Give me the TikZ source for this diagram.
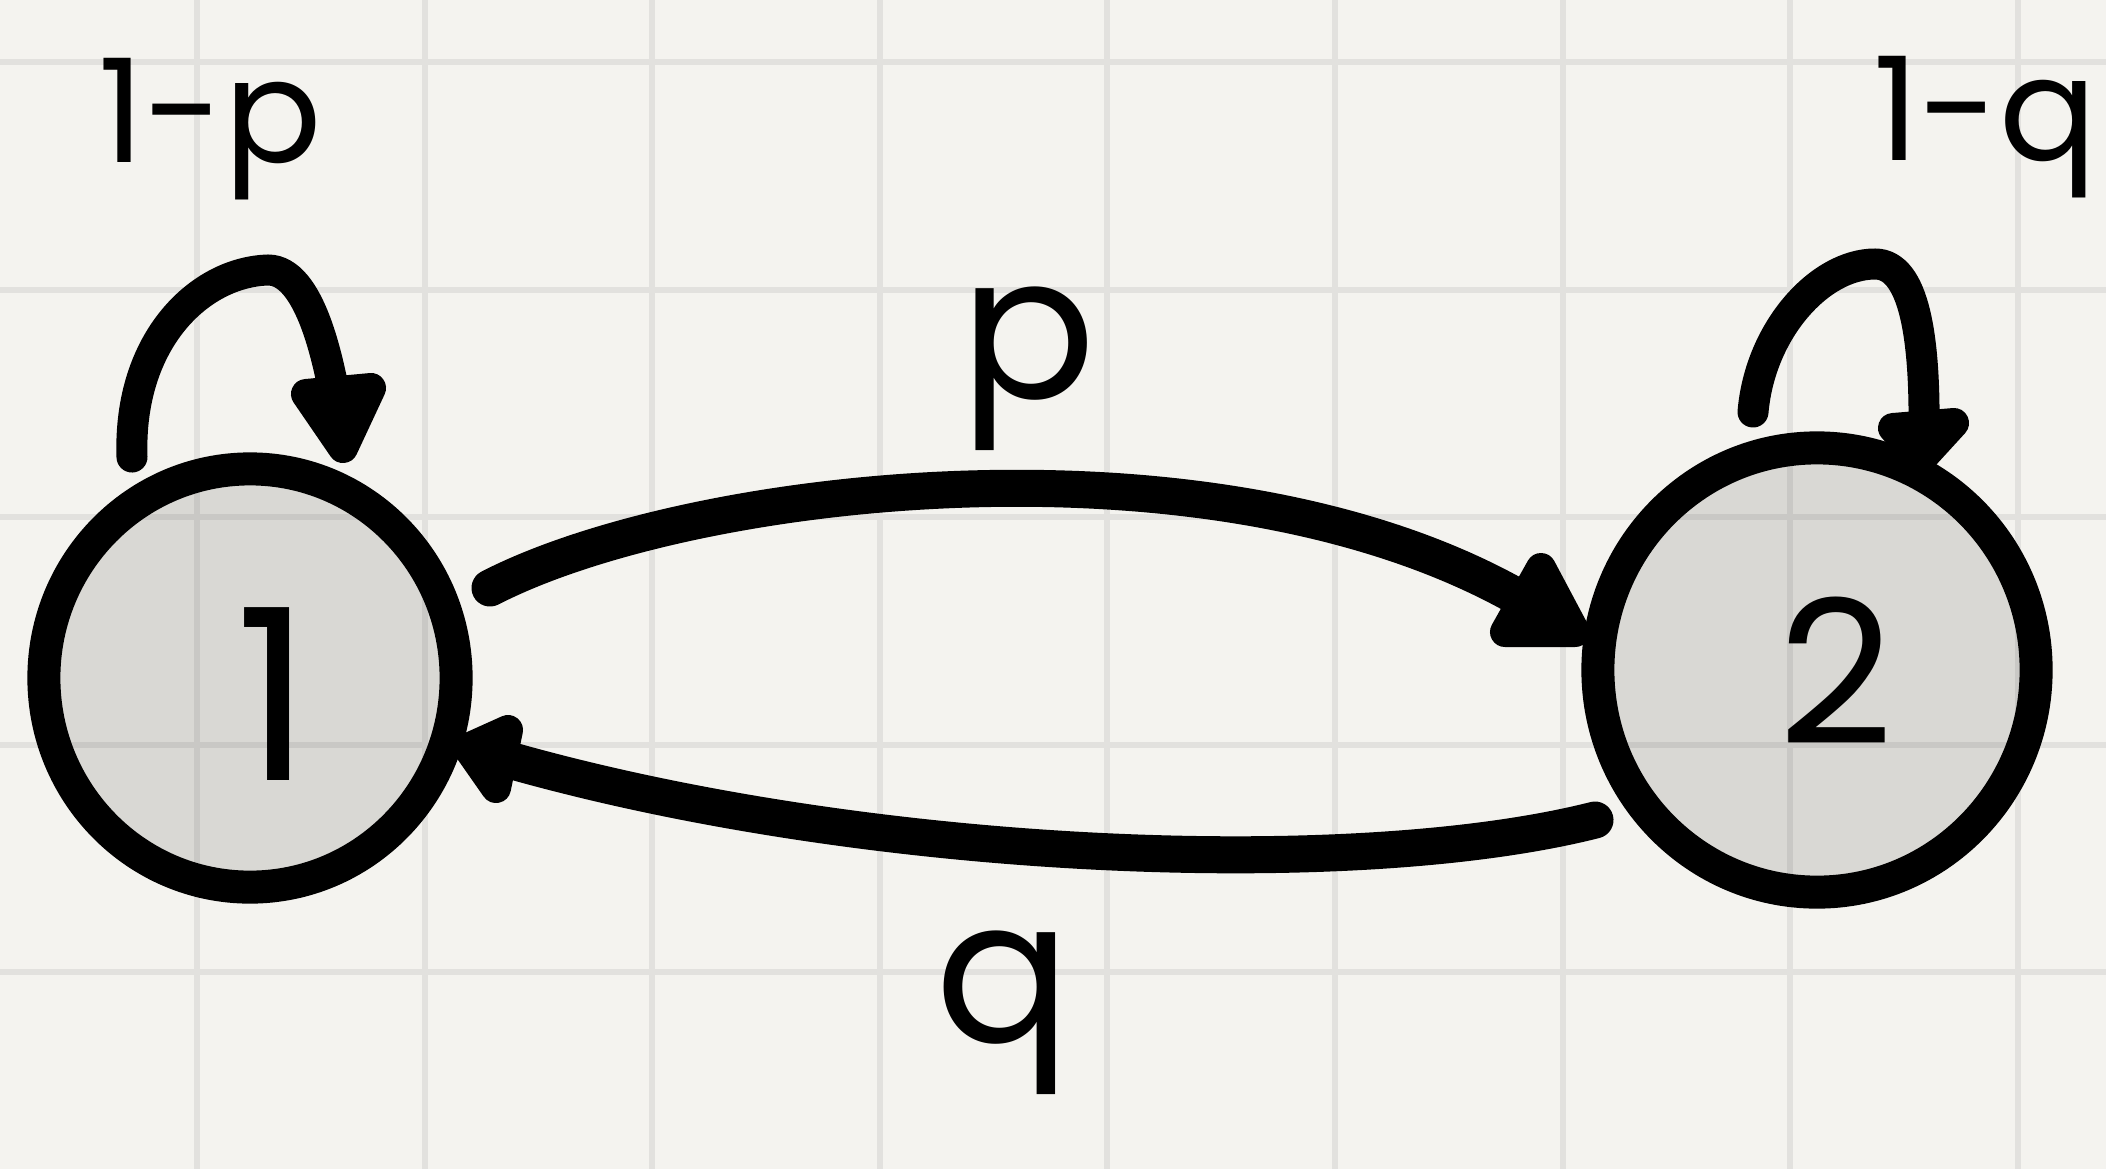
\documentclass[tikz,border=0pt]{standalone}
\usepackage{fontspec}
\setmainfont{Poppins}
\usetikzlibrary{calc,shapes.geometric}
\definecolor{paper}{RGB}{244,243,239}
\definecolor{gridc}{RGB}{226,225,222}
\begin{document}
\begin{tikzpicture}[x=0.01cm,y=-0.01cm,
  state/.style={ellipse, draw=black, line width=0.33cm, fill=black, fill opacity=0.11, inner sep=0pt},
  edge/.style={draw=black, line width=0.37cm, line cap=round},
  loopedge/.style={draw=black, line width=0.31cm, line cap=round},
  head/.style={fill=black, draw=black, line width=0.3cm, line join=round},
  txt/.style={inner sep=0pt, anchor=base, text=black}]
\fill[paper] (0,0) rectangle (2106,1169);
\useasboundingbox (0,0) rectangle (2106,1169);
% grid
\foreach \i in {0,...,8}
  \draw[gridc, line width=0.06cm] ({197+227.6*\i},0) -- ({197+227.6*\i},1169);
\foreach \j in {0,...,4}
  \draw[gridc, line width=0.06cm] (0,{62+227.6*\j}) -- (2106,{62+227.6*\j});
% states
\node[state, minimum width=4.12cm, minimum height=4.18cm] (n1) at (250,678) {};
\node[state, minimum width=4.38cm, minimum height=4.44cm] (n2) at (1817,670) {};
\node[txt, font=\fontsize{68}{70}\selectfont] (t1) at (274,780) {1};
\node[txt, font=\fontsize{57}{60}\selectfont] (t2) at (1836,744) {2};
% edge 1 -> 2
\draw[edge] ($(n1)+(240,-90)$) .. controls ($(n1)+(450,-198)$) and ($(n2)+(-560,-250)$) .. ($(n2)+(-262,-50)$);
\filldraw[head] ($(n2)+(-242,-38)$) -- ($(n2)+(-276,-102)$) -- ($(n2)+(-312,-38)$) -- cycle;
% edge 2 -> 1
\draw[edge] ($(n2)+(-222,150)$) .. controls ($(n2)+(-467,212)$) and ($(n1)+(600,184)$) .. ($(n1)+(235,75)$);
\filldraw[head] ($(n1)+(218,70)$) -- ($(n1)+(258,52)$) -- ($(n1)+(246,110)$) -- cycle;
% loop 1
\draw[loopedge] ($(n1)+(-118,-221)$) .. controls ($(n1)+(-122,-338)$) and ($(n1)+(-50,-406)$) .. ($(n1)+(18,-408)$) .. controls ($(n1)+(60,-408)$) and ($(n1)+(80,-318)$) .. ($(n1)+(90,-250)$);
\filldraw[head] ($(n1)+(56,-284)$) -- ($(n1)+(121,-290)$) -- ($(n1)+(93,-230)$) -- cycle;
% loop 2
\draw[loopedge] ($(n2)+(-64,-258)$) .. controls ($(n2)+(-57,-340)$) and ($(n2)+(3,-406)$) .. ($(n2)+(58,-406)$) .. controls ($(n2)+(98,-406)$) and ($(n2)+(108,-330)$) .. ($(n2)+(107,-240)$);
\filldraw[head] ($(n2)+(76,-242)$) -- ($(n2)+(137,-247)$) -- ($(n2)+(105,-212)$) -- cycle;
% labels
\node[txt, font=\fontsize{41}{44}\selectfont] (l1) at (210,162) {1-p};
\node[txt, font=\fontsize{41}{44}\selectfont] (l2) at (1985,160) {1-q};
\node[txt, font=\fontsize{57}{60}\selectfont] (lp) at (1028,398) {p};
\node[txt, font=\fontsize{57}{60}\selectfont] (lq) at (1003,1042) {q};
\end{tikzpicture}
\end{document}
